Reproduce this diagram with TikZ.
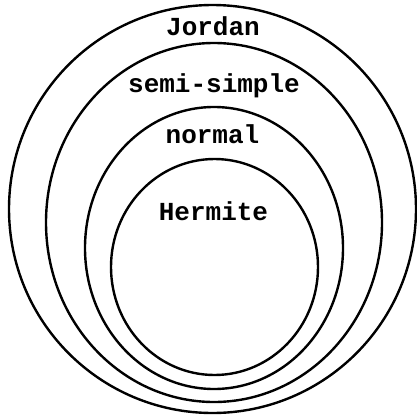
\documentclass[tikz,border=0pt]{standalone}
\usepackage{fontspec}
\setmonofont{Liberation Mono}
\begin{document}
\begin{tikzpicture}[x=1pt,y=-1pt,
  ring/.style={draw=black,line width=2.4pt},
  lbl/.style={anchor=base,inner sep=0pt,font=\ttfamily\bfseries\fontsize{26}{26}\selectfont}]
\useasboundingbox (0,0) rectangle (417,418);
\draw[ring] (212.5,209) ellipse [x radius=203.5, y radius=204];
\draw[ring] (214,222.5) ellipse [x radius=168, y radius=179.5];
\draw[ring] (214,248) ellipse [x radius=129, y radius=141];
\draw[ring] (214.5,267) ellipse [x radius=103.5, y radius=108];
\node[lbl] (jordan) at (213,35) {Jordan};
\node[lbl] (semi) at (214,92) {semi-simple};
\node[lbl] (normal) at (212.5,143) {normal};
\node[lbl] (hermite) at (213.5,220) {Hermite};
\end{tikzpicture}
\end{document}
